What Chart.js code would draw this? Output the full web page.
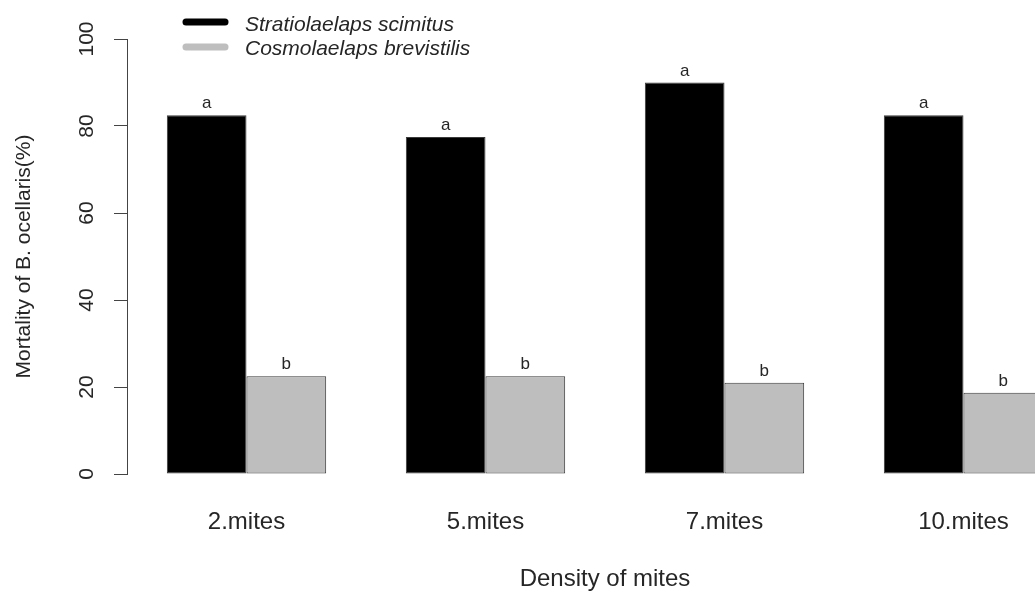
<!DOCTYPE html>
<html>
<head>
<meta charset="utf-8">
<script src="https://cdn.jsdelivr.net/npm/chart.js@4"></script>
<style>
  html, body { margin: 0; padding: 0; background: #fff; overflow: hidden; width: 1035px; height: 596px; }
  #wrap { position: absolute; left: 0; top: 0; width: 1100px; height: 596px; }
</style>
</head>
<body>
<div id="wrap"><canvas id="c" width="1100" height="596"></canvas></div>
<script>
// ---- data ----
const categories = ['2.mites', '5.mites', '7.mites', '10.mites'];
const seriesNames = ['Stratiolaelaps scimitus', 'Cosmolaelaps brevistilis'];
const scimitusValues = [82.5, 77.5, 90, 82.5];
const brevistilisValues = [22.5, 22.5, 21, 18.7];
const scimitusLetters = ['a', 'a', 'a', 'a'];
const brevistilisLetters = ['b', 'b', 'b', 'b'];
const yTicks = [0, 20, 40, 60, 80, 100];
const yTitle = 'Mortality of B. ocellaris(%)';
const xTitle = 'Density of mites';

const TEXT = '#262626';
const FONT = "'Liberation Sans', Arial, sans-serif";
const letterSets = [scimitusLetters, brevistilisLetters];

const lettersPlugin = {
  id: 'letters',
  afterDatasetsDraw(chart) {
    const ctx = chart.ctx;
    ctx.save();
    ctx.fillStyle = TEXT;
    ctx.font = '17px ' + FONT;
    ctx.textAlign = 'center';
    ctx.textBaseline = 'bottom';
    chart.data.datasets.forEach((ds, i) => {
      const meta = chart.getDatasetMeta(i);
      meta.data.forEach((bar, j) => {
        ctx.fillText(letterSets[i][j], bar.x, bar.y - 3);
      });
    });
    ctx.restore();
  }
};

const legendPlugin = {
  id: 'rlegend',
  afterDraw(chart) {
    const ctx = chart.ctx;
    ctx.save();
    const lineY = [22, 47];
    const textY = [25, 49];
    chart.data.datasets.forEach((ds, i) => {
      ctx.strokeStyle = ds.backgroundColor;
      ctx.lineWidth = 7;
      ctx.lineCap = 'round';
      ctx.beginPath();
      ctx.moveTo(186, lineY[i]);
      ctx.lineTo(225, lineY[i]);
      ctx.stroke();
      ctx.fillStyle = TEXT;
      ctx.font = 'italic 21px ' + FONT;
      ctx.textAlign = 'left';
      ctx.textBaseline = 'middle';
      ctx.fillText(ds.label, 245, textY[i]);
    });
    ctx.restore();
  }
};

new Chart(document.getElementById('c'), {
  type: 'bar',
  data: {
    labels: categories,
    datasets: [
      { label: seriesNames[0], data: scimitusValues, backgroundColor: '#000000',
        borderColor: '#3a3a3a', borderWidth: 1, borderSkipped: false },
      { label: seriesNames[1], data: brevistilisValues, backgroundColor: '#bebebe',
        borderColor: '#3a3a3a', borderWidth: 1, borderSkipped: false }
    ]
  },
  options: {
    responsive: false,
    animation: false,
    devicePixelRatio: 1,
    categoryPercentage: 2 / 3,
    barPercentage: 1,
    layout: { padding: { left: 0, right: 17, top: 39, bottom: 0 } },
    plugins: { legend: { display: false }, tooltip: { enabled: false } },
    scales: {
      x: {
        offset: true,
        grid: { display: false, drawTicks: false },
        border: { display: false },
        ticks: { color: TEXT, font: { family: FONT, size: 24 }, padding: 34, maxRotation: 0, minRotation: 0 },
        title: { display: true, text: xTitle, color: TEXT, font: { family: FONT, size: 24 }, padding: { top: 0, bottom: 2 } },
        afterFit(scale) { scale.height = 122; }
      },
      y: {
        min: 0, max: 100,
        afterBuildTicks(scale) { scale.ticks = yTicks.map(v => ({ value: v })); },
        grid: { display: true, drawOnChartArea: false, drawTicks: true, tickLength: 13, color: '#444', lineWidth: 1 },
        border: { display: true, color: '#444', width: 1 },
        ticks: { color: TEXT, font: { family: FONT, size: 21 }, padding: 9, minRotation: 90, maxRotation: 90, crossAlign: 'center' },
        title: { display: true, text: yTitle, color: TEXT, font: { family: FONT, size: 21 }, padding: { top: 12, bottom: 0 } },
        afterFit(scale) { scale.width = 127; }
      }
    }
  },
  plugins: [lettersPlugin, legendPlugin]
});
</script>
</body>
</html>
